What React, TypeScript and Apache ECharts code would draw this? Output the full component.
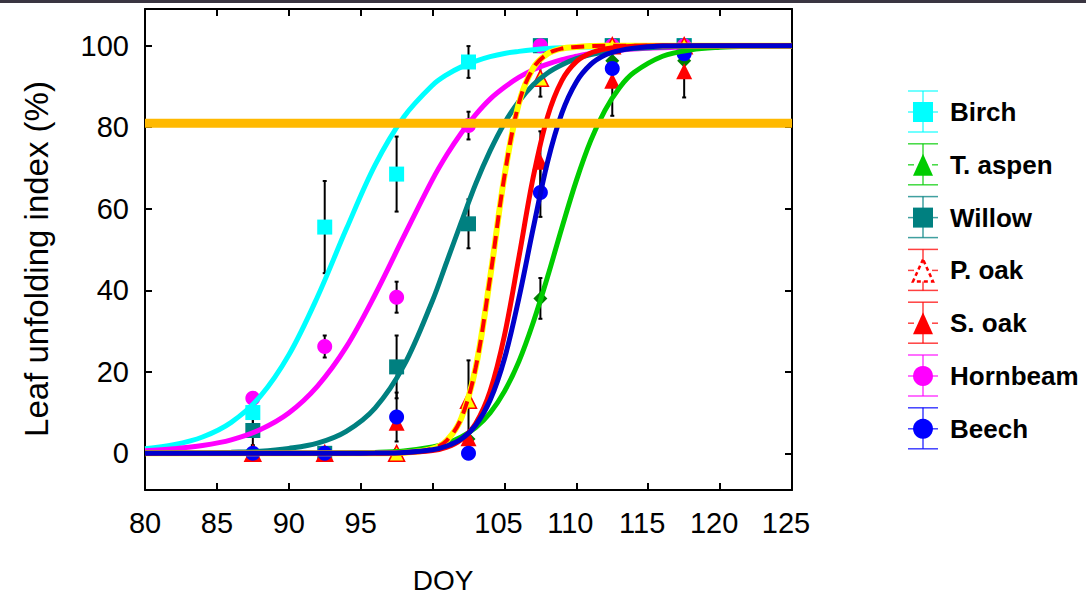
import React, { useEffect, useRef } from 'react';
import * as echarts from 'echarts';

// Observation days (DOY) and mean leaf unfolding index (%) with error half-widths
const DOY = [87.5, 92.5, 97.5, 102.5, 107.5, 112.5, 117.5];
const birch = [10, 55.5, 68.5, 96, 100, 100, 100];
const birchErr = [3, 11.3, 9.2, 3.9, 0, 0, 0];
const aspen = [0, 0, 0, 3.5, 38, 96.3, 96.3];
const aspenErr = [0, 0, 0, 0, 5, 0, 0];
const willow = [5.6, 0, 21.2, 56.3, 100, 100, 100];
const willowErr = [3.6, 0, 7.7, 6, 0, 0, 0];
const pOak = [0, 0, 0, 13, 92, 100, 100];
const pOakErr = [0, 0, 0, 9.8, 4.5, 0, 0];
const sOak = [0, 0, 7.5, 3.7, 71.5, 91.4, 93.7];
const sOakErr = [0, 0, 0, 0, 7.5, 8.6, 6.4];
const hornbeam = [13.5, 26.2, 38.3, 80.4, 100, 100, 100];
const hornbeamErr = [0, 2.7, 3.8, 3.4, 0, 0, 0];
const beech = [0, 0, 8.9, 0, 64, 94.4, 98];
const beechErr = [0, 0, 6, 0, 6, 0, 0];

// Fitted curves
const CURVE_DOY = [80, 82, 84, 86, 88, 90, 92, 94, 96, 98, 100, 101, 102, 103, 104, 105, 106, 107, 108, 109, 110, 111, 112, 113, 114, 116, 118, 120, 122, 125];
const birchFit = [1.1, 2.1, 4.0, 7.6, 13.9, 24.1, 38.4, 55.0, 70.7, 82.5, 90.3, 92.9, 94.8, 96.2, 97.3, 98.1, 98.6, 99.0, 99.3, 99.5, 99.6, 99.7, 99.8, 99.9, 99.9, 100, 100, 100, 100, 100];
const hornbeamFit = [0.6, 1.1, 1.9, 3.3, 5.8, 9.9, 16.5, 26.1, 38.9, 53.2, 67.2, 73.3, 78.6, 83.1, 86.9, 89.8, 92.2, 94.1, 95.5, 96.6, 97.4, 98.1, 98.6, 98.9, 99.2, 99.5, 99.7, 99.8, 99.9, 100];
const willowFit = [0, 0.05, 0.1, 0.25, 0.5, 1.2, 2.5, 5.4, 11.1, 21.5, 37.5, 47.1, 56.7, 66.1, 74.2, 81.0, 86.3, 90.4, 93.3, 95.3, 96.8, 97.8, 98.5, 99.0, 99.3, 99.7, 99.9, 100, 100, 100];
const pOakFit = [0, 0, 0, 0, 0, 0, 0, 0, 0.02, 0.15, 1.15, 3.2, 8.6, 21, 43, 68, 85.8, 94.5, 98, 99.3, 99.7, 99.9, 100, 100, 100, 100, 100, 100, 100, 100];
const sOakFit = [0, 0, 0, 0, 0, 0, 0, 0, 0.03, 0.13, 0.67, 1.5, 3.4, 7.3, 15.2, 28.9, 48, 67.7, 82.6, 91.5, 96.1, 98.2, 99.2, 99.7, 99.85, 100, 100, 100, 100, 100];
const beechFit = [0, 0, 0, 0, 0, 0, 0, 0, 0.05, 0.22, 0.88, 1.8, 3.5, 6.9, 13, 23.2, 38, 55.2, 71.5, 83.5, 91.1, 95.4, 97.7, 98.8, 99.4, 99.9, 100, 100, 100, 100];
const aspenFit = [0, 0, 0, 0, 0, 0, 0, 0.09, 0.23, 0.6, 1.55, 2.5, 4.0, 6.3, 9.9, 15.2, 22.5, 32.1, 43.3, 55.4, 66.9, 76.7, 84.2, 89.7, 93.4, 97.4, 99.0, 99.6, 99.85, 100];

const THRESHOLD = 81;
const Y_TICKS = [0, 20, 40, 60, 80, 100];
const LEGEND_NAMES = ['Birch', 'T. aspen', 'Willow', 'P. oak', 'S. oak', 'Hornbeam', 'Beech'];

const FONT = "'Liberation Sans', Arial, Helvetica, sans-serif";

const pts = (vals: number[]) => DOY.map((d, i) => [d, vals[i]]);
const curve = (vals: number[]) => CURVE_DOY.map((d, i) => [d, vals[i]]);

const errData: number[][] = [];
[
  [birch, birchErr], [aspen, aspenErr], [willow, willowErr], [pOak, pOakErr],
  [sOak, sOakErr], [hornbeam, hornbeamErr], [beech, beechErr],
].forEach(([v, e]) => {
  DOY.forEach((d, i) => {
    if (e[i] > 0) errData.push([d, v[i] - e[i], Math.min(v[i] + e[i], 100)]);
  });
});

function legendGraphics() {
  const colors = ['#00FFFF', '#00CC00', '#008080', '#FF0000', '#FF0000', '#FF00FF', '#0000FF'];
  const kinds = ['square', 'triangle', 'square', 'triOutline', 'triangle', 'circle', 'circle'];
  const out: any[] = [];
  const cx = 923;
  LEGEND_NAMES.forEach((name, i) => {
    const cy = 112 + i * 52.8;
    const c = colors[i];
    const lineStyle = { stroke: c, lineWidth: 1.5, opacity: 0.75 };
    out.push({ type: 'line', shape: { x1: cx, y1: cy - 21, x2: cx, y2: cy + 20 }, style: lineStyle });
    out.push({ type: 'line', shape: { x1: 908, y1: cy - 21, x2: 938, y2: cy - 21 }, style: lineStyle });
    out.push({ type: 'line', shape: { x1: 908, y1: cy + 20, x2: 938, y2: cy + 20 }, style: lineStyle });
    out.push({ type: 'line', shape: { x1: 908, y1: cy, x2: 914, y2: cy }, style: lineStyle });
    out.push({ type: 'line', shape: { x1: 932, y1: cy, x2: 938, y2: cy }, style: lineStyle });
    const k = kinds[i];
    if (k === 'square') {
      out.push({ type: 'rect', shape: { x: cx - 10, y: cy - 10, width: 20, height: 20 }, style: { fill: c } });
    } else if (k === 'circle') {
      out.push({ type: 'circle', shape: { cx, cy, r: 10 }, style: { fill: c } });
    } else if (k === 'triangle') {
      out.push({ type: 'polygon', shape: { points: [[cx, cy - 11], [cx - 10, cy + 11], [cx + 10, cy + 11]] }, style: { fill: c } });
    } else {
      out.push({ type: 'polygon', shape: { points: [[cx, cy - 11], [cx - 10, cy + 11], [cx + 10, cy + 11]] }, style: { fill: '#fff', stroke: c, lineWidth: 2.5, lineDash: [4, 3] } });
    }
    out.push({
      type: 'text', x: 950, y: cy,
      style: { text: name, font: `bold 26px ${FONT}`, fill: '#000', textVerticalAlign: 'middle', verticalAlign: 'middle' },
    });
  });
  return out;
}

export default function App() {
  const ref = useRef<HTMLDivElement>(null);
  useEffect(() => {
    const chart = echarts.init(ref.current!, null, { renderer: 'svg' });
    const axisLine = { show: true, onZero: false, lineStyle: { color: '#000', width: 2 } };
    const tick = { show: true, inside: true, length: 7, lineStyle: { color: '#000', width: 2 } };
    const curveLine = (name: string, data: number[], color: string, width = 5, extra: any = {}) => ({
      name, type: 'line', data: curve(data), showSymbol: false, smooth: 0.35,
      lineStyle: { color, width, ...extra }, z: 3, silent: true,
    });
    const scatter = (name: string, data: number[], symbol: string, size: number, color: string, extra: any = {}) => ({
      name, type: 'scatter', data: pts(data), symbol, symbolSize: size,
      itemStyle: { color, opacity: 1, ...extra }, z: 2,
    });
    const option: any = {
      animation: false,
      backgroundColor: '#fff',
      grid: { left: 145, right: 294, top: 9, bottom: 110, containLabel: false },
      xAxis: [
        {
          type: 'value', min: 80, max: 125, interval: 5, position: 'bottom',
          axisLine, axisTick: tick, splitLine: { show: false },
          axisLabel: {
            margin: 18, color: '#000', fontSize: 29, fontFamily: FONT,
            formatter: (v: number) => (v === 100 ? '' : v >= 105 ? `{s|${v}}` : `${v}`),
            rich: { s: { fontSize: 29, fontFamily: FONT, color: '#000', padding: [0, 12, 0, 0] } },
          },
        },
        {
          type: 'value', min: 80, max: 125, interval: 5, position: 'top',
          axisLine, axisTick: tick, axisLabel: { show: false }, splitLine: { show: false },
        },
      ],
      yAxis: [
        {
          type: 'value', min: -9, max: 109, position: 'left',
          axisLine, splitLine: { show: false },
          axisTick: { ...tick, customValues: Y_TICKS },
          axisLabel: { customValues: Y_TICKS, margin: 16, color: '#000', fontSize: 29, fontFamily: FONT },
        },
        {
          type: 'value', min: -9, max: 109, position: 'right',
          axisLine, splitLine: { show: false },
          axisTick: { ...tick, customValues: Y_TICKS },
          axisLabel: { show: false },
        },
      ],
      series: [
        {
          type: 'custom', name: 'err', data: errData, z: 1, silent: true,
          encode: { x: 0, y: [1, 2] },
          renderItem: (params: any, api: any) => {
            const x = api.value(0);
            const lo = api.coord([x, api.value(1)]);
            const hi = api.coord([x, api.value(2)]);
            const st = { stroke: '#000', lineWidth: 2 };
            return {
              type: 'group',
              children: [
                { type: 'line', shape: { x1: lo[0], y1: lo[1], x2: hi[0], y2: hi[1] }, style: st },
                { type: 'line', shape: { x1: hi[0] - 2, y1: hi[1], x2: hi[0] + 2, y2: hi[1] }, style: st },
                { type: 'line', shape: { x1: lo[0] - 2, y1: lo[1], x2: lo[0] + 2, y2: lo[1] }, style: st },
              ],
            };
          },
        },
        scatter('Birch', birch, 'rect', 15, '#00FFFF'),
        scatter('Willow', willow, 'rect', 15, '#008080'),
        scatter('Hornbeam', hornbeam, 'circle', 15, '#FF00FF'),
        scatter('T. aspen', aspen, 'diamond', 14, '#008000'),
        scatter('P. oak', pOak, 'triangle', 16, '#FFFF00', { borderColor: '#FF0000', borderWidth: 1.5 }),
        scatter('S. oak', sOak, 'triangle', 16, '#FF0000'),
        scatter('Beech', beech, 'circle', 15, '#0000FF'),
        curveLine('Birch fit', birchFit, '#00FFFF'),
        curveLine('Hornbeam fit', hornbeamFit, '#FF00FF'),
        curveLine('Willow fit', willowFit, '#008080'),
        curveLine('T. aspen fit', aspenFit, '#00CC00'),
        curveLine('P. oak fit', pOakFit, '#FFFF00', 6),
        curveLine('P. oak fit dash', pOakFit, '#FF0000', 4, { type: [13, 8] }),
        curveLine('S. oak fit', sOakFit, '#FF0000'),
        curveLine('Beech fit', beechFit, '#0000CC'),
        {
          name: 'threshold', type: 'line', data: [[80, THRESHOLD], [125, THRESHOLD]],
          showSymbol: false, lineStyle: { color: '#FFB900', width: 9 }, z: 4, silent: true,
        },
      ],
      graphic: [
        { type: 'rect', shape: { x: 0, y: 0, width: 1086, height: 3 }, style: { fill: '#3a3541' }, z: 10 },
        {
          type: 'text', x: 36, y: 259, rotation: Math.PI / 2,
          style: { text: 'Leaf unfolding index (%)', font: `33px ${FONT}`, fill: '#000', textAlign: 'center', textVerticalAlign: 'middle', align: 'center', verticalAlign: 'middle' },
        },
        {
          type: 'text', x: 443, y: 580,
          style: { text: 'DOY', font: `28px ${FONT}`, fill: '#000', textAlign: 'center', textVerticalAlign: 'middle', align: 'center', verticalAlign: 'middle' },
        },
        ...legendGraphics(),
      ],
    };
    chart.setOption(option);
    return () => chart.dispose();
  }, []);
  return <div ref={ref} style={{ position: 'absolute', left: 0, top: 0, width: 1086, height: 600, background: '#fff' }} />;
}
